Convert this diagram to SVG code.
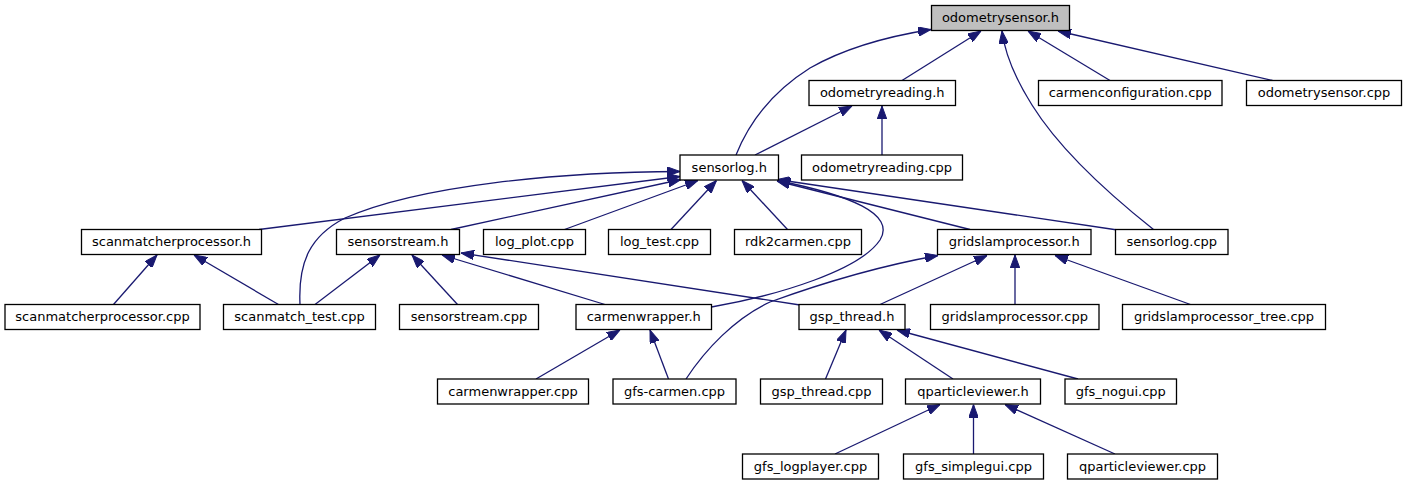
<svg xmlns="http://www.w3.org/2000/svg" width="1407" height="485" viewBox="0 0 1407 485">
<style>
.node rect{fill:#ffffff;stroke:#000000;stroke-width:1.3}
.node.root rect{fill:#bfbfbf}
.node text{font-family:"DejaVu Sans","Liberation Sans",sans-serif;font-size:13px;text-anchor:middle;fill:#000000}
.edges path{fill:none;stroke:#191970;stroke-width:1.3;marker-end:url(#arr)}
</style>
<defs>
<marker id="arr" markerUnits="userSpaceOnUse" viewBox="0 0 13 9.5" refX="13" refY="4.75" markerWidth="13" markerHeight="9.5" orient="auto">
<path d="M0,0 L13,4.75 L0,9.5 z" fill="#191970" stroke="#191970" stroke-width="1"/>
</marker>
</defs>
<rect x="0" y="0" width="1407" height="485" fill="#ffffff"/>
<g class="edges" id="edges">
<path d="M736,155 C750,120 775,90 810,68 C845,48 890,36 931,29.5"/>
<path d="M902,80.5 L981,31"/>
<path d="M1153.5,229.5 C1110,195 1060,150 1032,105 C1015,78 1005,55 1002,31"/>
<path d="M1110,80.5 L1028,31"/>
<path d="M1272.5,80.5 L1058,31"/>
<path d="M755,155 L852,106"/>
<path d="M882,155 L882,106"/>
<path d="M300,304.5 C298,262 310,236 345,218 C420,185 560,172 680,171.5"/>
<path d="M259,229.5 L680,176.5"/>
<path d="M451,229.5 L681,179.5"/>
<path d="M564.5,229.5 L698,180.5"/>
<path d="M671,229.5 L716.5,180.5"/>
<path d="M787.5,229.5 L742,180.5"/>
<path d="M970,229.5 L777,181"/>
<path d="M1117.5,230 L777,179.5"/>
<path d="M711.5,307 C780,295 860,270 880,240 C896,214 850,195 777,180.5"/>
<path d="M113.5,304.5 L157,255"/>
<path d="M278.5,304.5 L194,255"/>
<path d="M315,304.5 L380,255"/>
<path d="M457.5,304.5 L412,255"/>
<path d="M605,304.5 L442,255"/>
<path d="M800,305 L461,253"/>
<path d="M686,379 C705,350 735,318 770,302 C825,282 885,265 938,255.5"/>
<path d="M880,304.5 L987,255.5"/>
<path d="M1015,304.5 L1015,255"/>
<path d="M1190.5,304.5 L1055,255.5"/>
<path d="M536,379 L620,330"/>
<path d="M668.5,379 L650,330"/>
<path d="M825.5,379 L846,330"/>
<path d="M953,379 L879,330"/>
<path d="M1078,379 L897,330"/>
<path d="M835,454 L940,404.5"/>
<path d="M973.5,454 L973.5,404.5"/>
<path d="M1115,454 L1005,404.5"/>
</g>
<g class="node root" id="n0"><rect x="931.5" y="5.5" width="138" height="25"/><text x="1000.5" y="22">odometrysensor.h</text></g>
<g class="node" id="n1"><rect x="809" y="80.5" width="146.5" height="25"/><text x="882.25" y="97">odometryreading.h</text></g>
<g class="node" id="n2"><rect x="1038.5" y="80.5" width="183.5" height="25"/><text x="1130.25" y="97">carmenconfiguration.cpp</text></g>
<g class="node" id="n3"><rect x="1246.5" y="80.5" width="155" height="25"/><text x="1324" y="97">odometrysensor.cpp</text></g>
<g class="node" id="n4"><rect x="680" y="155" width="98.5" height="25"/><text x="729.25" y="171.5">sensorlog.h</text></g>
<g class="node" id="n5"><rect x="801.5" y="155" width="161" height="25"/><text x="882" y="171.5">odometryreading.cpp</text></g>
<g class="node" id="n6"><rect x="81.5" y="229.5" width="180" height="25"/><text x="171.5" y="246">scanmatcherprocessor.h</text></g>
<g class="node" id="n7"><rect x="336.5" y="229.5" width="123" height="25"/><text x="398" y="246">sensorstream.h</text></g>
<g class="node" id="n8"><rect x="483.5" y="229.5" width="102" height="25"/><text x="534.5" y="246">log_plot.cpp</text></g>
<g class="node" id="n9"><rect x="608.5" y="229.5" width="102" height="25"/><text x="659.5" y="246">log_test.cpp</text></g>
<g class="node" id="n10"><rect x="734.5" y="229.5" width="127" height="25"/><text x="798" y="246">rdk2carmen.cpp</text></g>
<g class="node" id="n11"><rect x="937.5" y="229.5" width="153.5" height="25"/><text x="1014.25" y="246">gridslamprocessor.h</text></g>
<g class="node" id="n12"><rect x="1115.5" y="229.5" width="112.5" height="25"/><text x="1171.75" y="246">sensorlog.cpp</text></g>
<g class="node" id="n13"><rect x="5" y="304.5" width="195" height="25"/><text x="102.5" y="321">scanmatcherprocessor.cpp</text></g>
<g class="node" id="n14"><rect x="223.5" y="304.5" width="152" height="25"/><text x="299.5" y="321">scanmatch_test.cpp</text></g>
<g class="node" id="n15"><rect x="399.5" y="304.5" width="139" height="25"/><text x="469" y="321">sensorstream.cpp</text></g>
<g class="node" id="n16"><rect x="576" y="304.5" width="135.5" height="25"/><text x="643.75" y="321">carmenwrapper.h</text></g>
<g class="node" id="n17"><rect x="799" y="304.5" width="106" height="25"/><text x="852" y="321">gsp_thread.h</text></g>
<g class="node" id="n18"><rect x="930.5" y="304.5" width="168.5" height="25"/><text x="1014.75" y="321">gridslamprocessor.cpp</text></g>
<g class="node" id="n19"><rect x="1122.5" y="304.5" width="203" height="25"/><text x="1224" y="321">gridslamprocessor_tree.cpp</text></g>
<g class="node" id="n20"><rect x="437.5" y="379" width="151" height="25"/><text x="513" y="395.5">carmenwrapper.cpp</text></g>
<g class="node" id="n21"><rect x="613" y="379" width="123" height="25"/><text x="674.5" y="395.5">gfs-carmen.cpp</text></g>
<g class="node" id="n22"><rect x="760.5" y="379" width="122" height="25"/><text x="821.5" y="395.5">gsp_thread.cpp</text></g>
<g class="node" id="n23"><rect x="905.5" y="379" width="135" height="25"/><text x="973" y="395.5">qparticleviewer.h</text></g>
<g class="node" id="n24"><rect x="1065" y="379" width="111.5" height="25"/><text x="1120.75" y="395.5">gfs_nogui.cpp</text></g>
<g class="node" id="n25"><rect x="742.5" y="454" width="136" height="25"/><text x="810.5" y="470.5">gfs_logplayer.cpp</text></g>
<g class="node" id="n26"><rect x="903.5" y="454" width="140" height="25"/><text x="973.5" y="470.5">gfs_simplegui.cpp</text></g>
<g class="node" id="n27"><rect x="1067.5" y="454" width="150" height="25"/><text x="1142.5" y="470.5">qparticleviewer.cpp</text></g>
</svg>
